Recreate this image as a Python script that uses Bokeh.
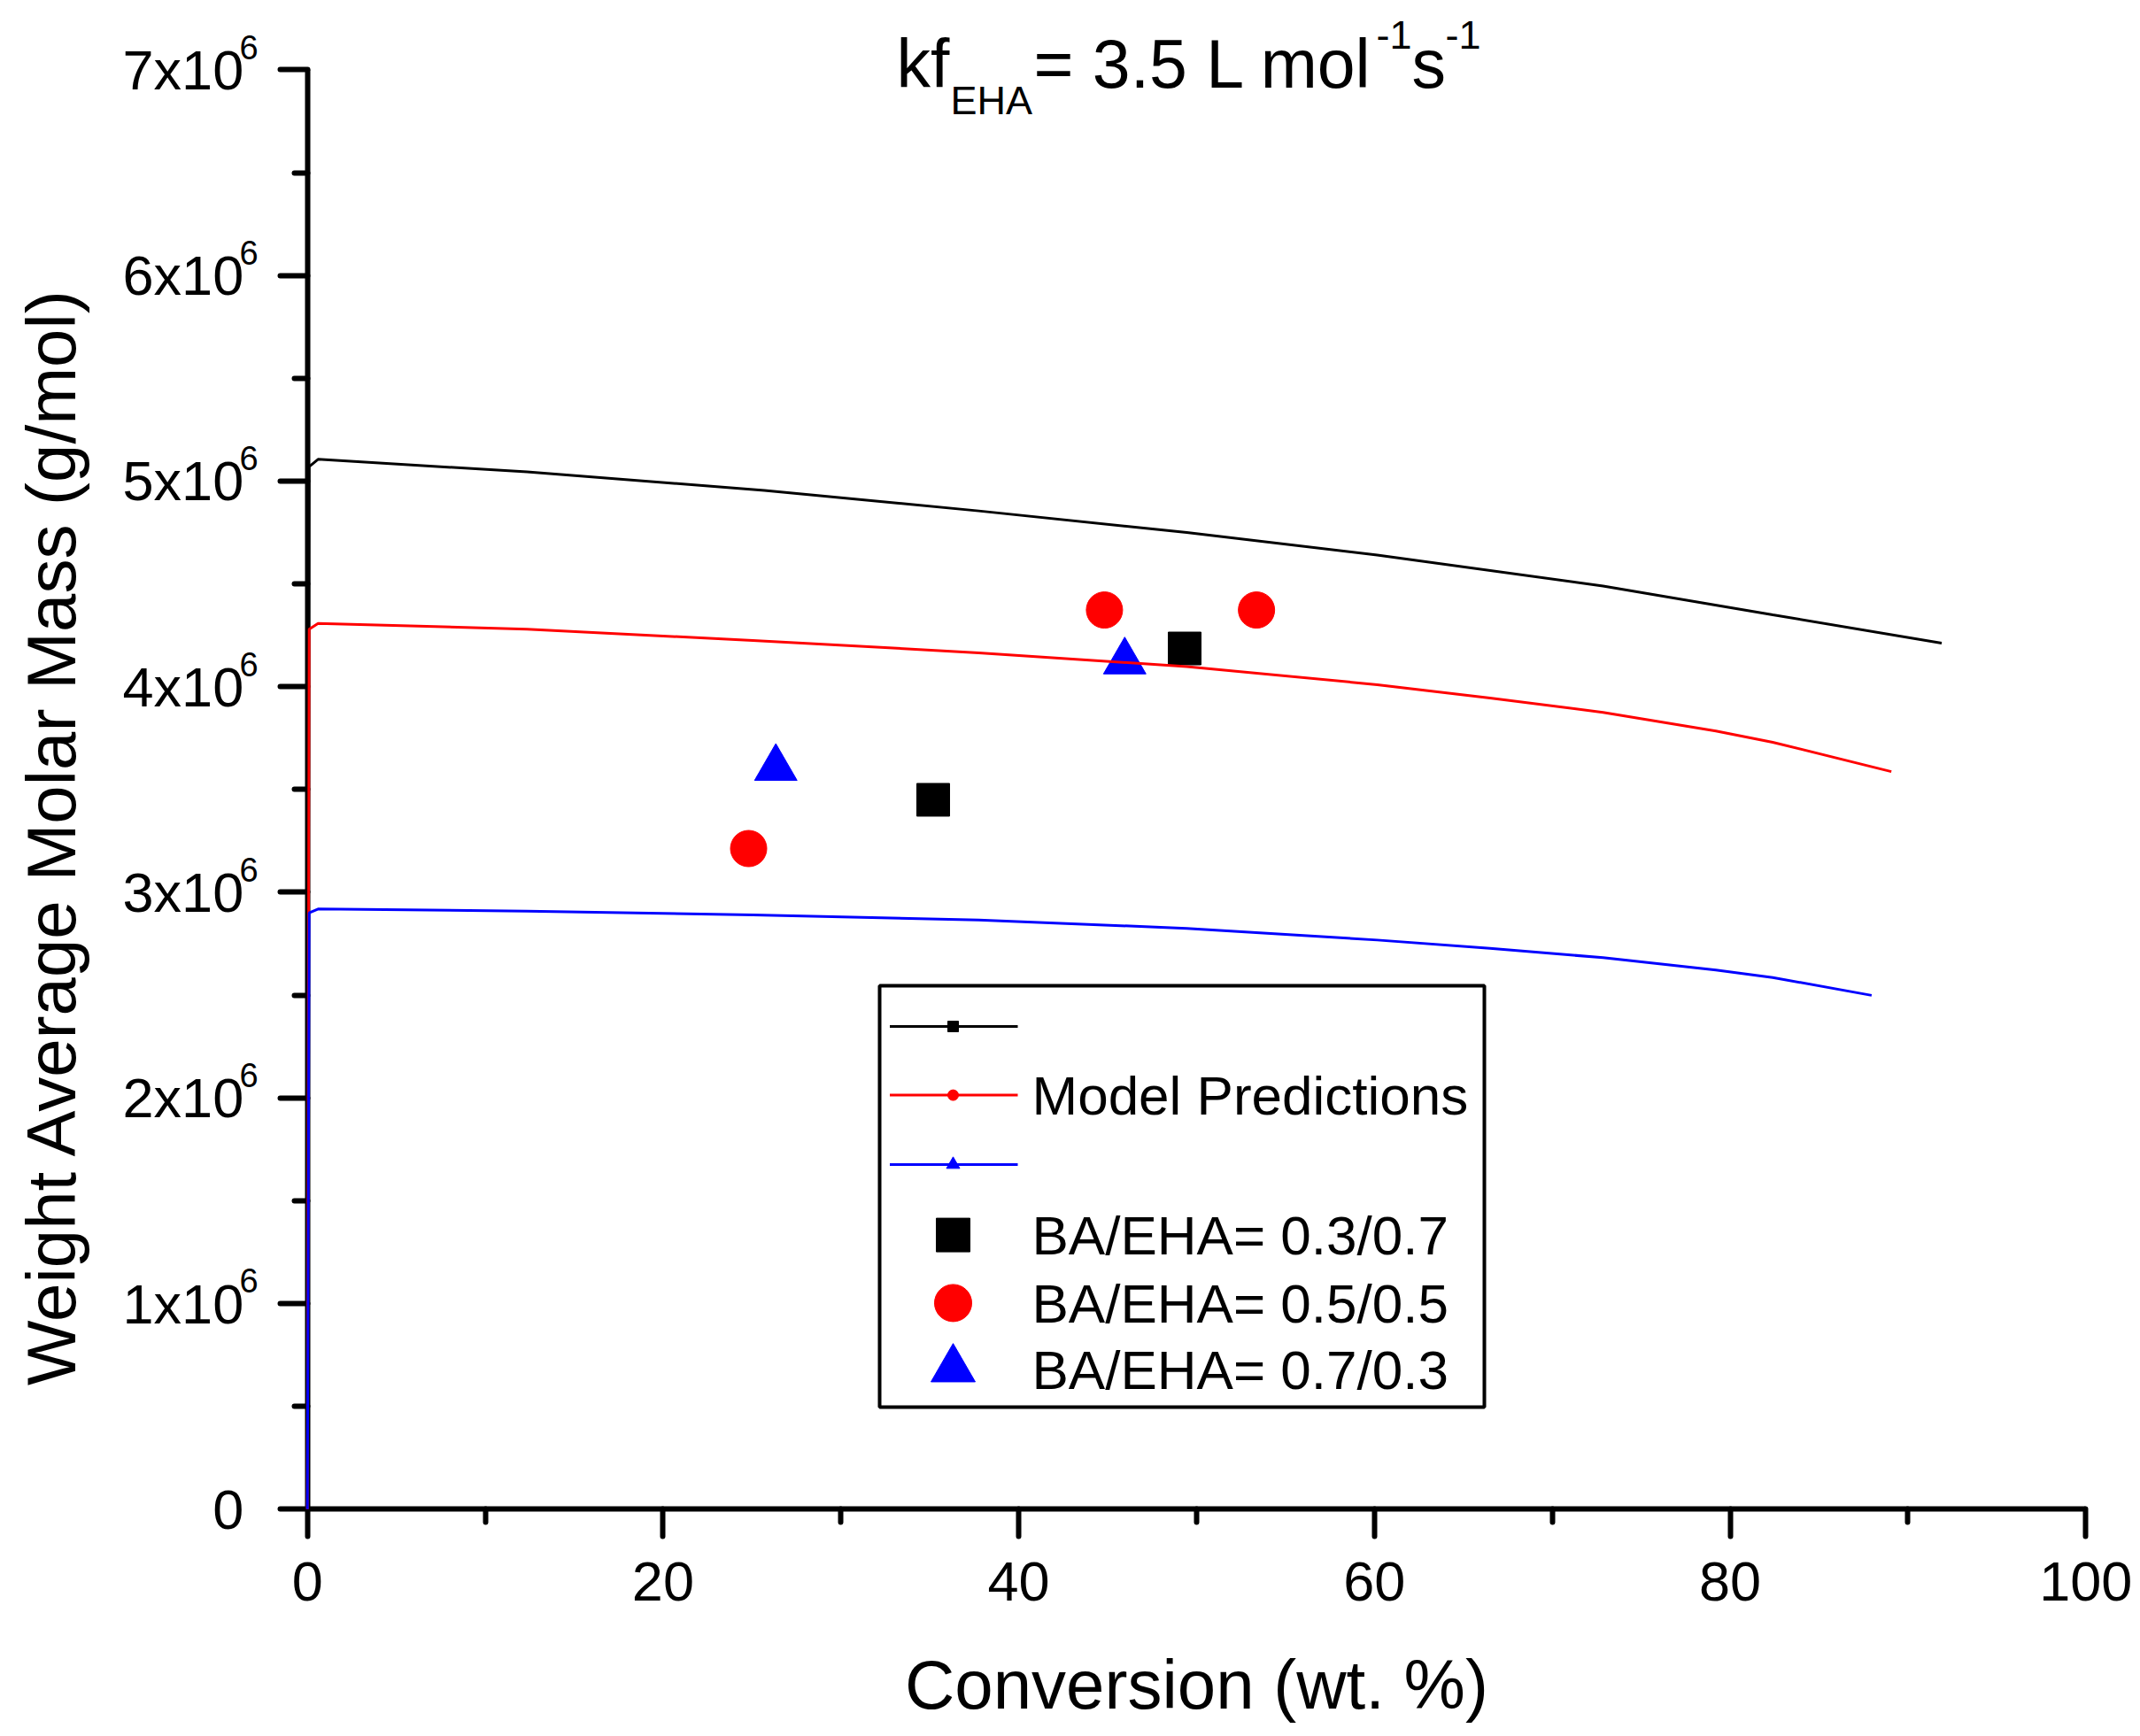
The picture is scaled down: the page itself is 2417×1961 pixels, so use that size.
from math import pi
from bokeh.plotting import figure
from bokeh.models import Range1d, FixedTicker, Label, LabelSet, ColumnDataSource, BoxAnnotation
from bokeh.core.properties import value
from bokeh.embed import file_html
from bokeh.resources import INLINE

FONT = "Liberation Sans"

# ---------------- data ----------------
x_ticks = [0, 20, 40, 60, 80, 100]
x_minor = [10, 30, 50, 70, 90]
y_ticks = [0, 1e6, 2e6, 3e6, 4e6, 5e6, 6e6, 7e6]
y_minor = [0.5e6, 1.5e6, 2.5e6, 3.5e6, 4.5e6, 5.5e6, 6.5e6]
y_tick_labels = ["0", "1x10", "2x10", "3x10", "4x10", "5x10", "6x10", "7x10"]
y_tick_exps = ["", "6", "6", "6", "6", "6", "6", "6"]

# model predictions (conversion wt.%, Mw g/mol)
model_37_x = [0, 0.1, 0.6, 12.35, 25.7, 37.75, 49.45, 60.16, 72.86, 82.4, 91.9]
model_37_y = [0, 5.07e6, 5.106e6, 5.045e6, 4.955e6, 4.855e6, 4.750e6, 4.640e6, 4.490e6, 4.350e6, 4.212e6]
model_55_x = [0, 0.1, 0.6, 12.35, 25.05, 37.75, 49.45, 60.16, 66.5, 72.86, 79.2, 82.4, 89.07]
model_55_y = [0, 4.28e6, 4.308e6, 4.280e6, 4.225e6, 4.165e6, 4.098e6, 4.010e6, 3.945e6, 3.875e6, 3.785e6, 3.730e6, 3.587e6]
model_73_x = [0, 0.1, 0.6, 12.35, 25.05, 37.75, 49.45, 60.16, 66.5, 72.86, 79.2, 82.4, 87.96]
model_73_y = [0, 2.90e6, 2.919e6, 2.909e6, 2.890e6, 2.865e6, 2.825e6, 2.768e6, 2.728e6, 2.682e6, 2.622e6, 2.586e6, 2.499e6]

# experimental data
exp_37_x = [35.19, 49.33]
exp_37_y = [3.450e6, 4.186e6]
exp_55_x = [24.81, 44.82, 53.37]
exp_55_y = [3.213e6, 4.373e6, 4.373e6]
exp_73_x = [26.34, 45.96]
exp_73_y = [3.604e6, 4.122e6]

legend_labels = ["", "Model Predictions", "", "BA/EHA= 0.3/0.7", "BA/EHA= 0.5/0.5", "BA/EHA= 0.7/0.3"]

# ---------------- layout (page pixels) ----------------
W, H = 2415, 1958
X0, XS = 346.7, 20.085        # px of x = 0, px per x unit
Y0, YS = 1704.3, 232.27e-6    # px of y = 0, px per y unit
MID = 0.3465                  # centre of em box above baseline (em)


def dx(px):
    return (px - X0) / XS


def dy(py):
    return (Y0 - py) / YS


p = figure(width=W, height=H, output_backend="svg", toolbar_location=None,
           x_range=Range1d(dx(0), dx(W)), y_range=Range1d(dy(H), dy(0)),
           min_border=0, min_border_left=0, min_border_right=0,
           min_border_top=0, min_border_bottom=0)
p.background_fill_color = "white"
p.border_fill_color = "white"
p.outline_line_color = None
p.xgrid.visible = False
p.ygrid.visible = False

for ax in (p.xaxis, p.yaxis):
    ax.fixed_location = 0
    ax.axis_line_width = 6
    ax.axis_line_color = "black"
    ax.major_tick_line_width = 6
    ax.minor_tick_line_width = 6
    ax.major_tick_line_cap = "round"
    ax.minor_tick_line_cap = "round"
    ax.major_tick_in = 0
    ax.minor_tick_in = 0
    ax.major_tick_out = 31
    ax.minor_tick_out = 15
    ax.major_label_text_font = FONT
    ax.major_label_text_font_size = "63px"
    ax.major_label_text_color = "black"

p.xaxis.bounds = (0, 100)
p.xaxis.ticker = FixedTicker(ticks=x_ticks, minor_ticks=x_minor)
p.xaxis.major_label_standoff = 29
p.yaxis.bounds = (0, 7e6)
p.yaxis.ticker = FixedTicker(ticks=y_ticks, minor_ticks=y_minor)
p.yaxis.major_label_overrides = {int(t): s for t, s in zip(y_ticks, y_tick_labels)}
p.yaxis.major_label_standoff = 41

# superscript exponents of the y tick labels
SUP = 38
sup_src = ColumnDataSource(dict(
    x=[dx(270)] * (len(y_ticks) - 1),
    y=[t + (12.4 + MID * SUP) / YS for t in y_ticks[1:]],
    text=y_tick_exps[1:],
))
p.add_layout(LabelSet(x="x", y="y", text="text", source=sup_src,
                      text_font=value(FONT), text_font_size=f"{SUP}px", text_color="black",
                      text_align="left", text_baseline="middle"))

# model curves (drawn over the axis as in the original)
p.line(model_37_x, model_37_y, line_color="black", line_width=3, level="overlay")
p.line(model_55_x, model_55_y, line_color="red", line_width=3, level="overlay")
p.line(model_73_x, model_73_y, line_color="blue", line_width=3, level="overlay")

# experimental points
p.scatter(exp_37_x, exp_37_y, marker="square", size=37, fill_color="black", line_color="black")
p.scatter(exp_55_x, exp_55_y, marker="circle", size=41, fill_color="red", line_color="red")
p.scatter(exp_73_x, exp_73_y, marker="triangle", size=48, fill_color="blue", line_color="blue")


def add_text(text, px, py_base, size, align="left", angle=0.0):
    """place text so that its baseline sits at py_base (or px for rotated text)"""
    if angle:
        x, y = dx(px - MID * size), dy(py_base)
    else:
        x, y = dx(px), dy(py_base - MID * size)
    p.add_layout(Label(x=x, y=y, text=text, text_font=FONT,
                       text_font_size=f"{size}px", text_color="black",
                       text_align=align, text_baseline="middle", angle=angle))


# title: kf_EHA = 3.5 L mol^-1 s^-1
add_text("kf", 1012, 98.2, 77)
add_text("EHA", 1073, 128.6, 45)
add_text("= 3.5 L mol", 1167, 98.2, 77)
add_text("-1", 1554, 55, 45)
add_text("s", 1594, 98.2, 77)
add_text("-1", 1632, 55, 45)

# axis titles
add_text("Conversion (wt. %)", X0 + 50 * XS, 1930, 78, align="center")
add_text("Weight Average Molar Mass (g/mol)", 85, 944, 78, align="center", angle=pi / 2)

# legend
p.add_layout(BoxAnnotation(left=dx(993), right=dx(1676), top=dy(1113), bottom=dy(1589),
                           fill_color="white", fill_alpha=1.0, line_color="black",
                           line_alpha=1.0, line_width=4, level="underlay"))
rows = [1159, 1236.6, 1315, 1394.6, 1471.4, 1546]
key_x0, key_x1, key_xc, text_x = 1004.5, 1149, 1076, 1165
line_colors = ["black", "red", "blue"]
small_markers = [("square", 12), ("circle", 12), ("triangle", 15)]
for r, c, (m, s) in zip(rows[:3], line_colors, small_markers):
    p.line([dx(key_x0), dx(key_x1)], [dy(r), dy(r)], line_color=c, line_width=3)
    p.scatter([dx(key_xc)], [dy(r)], marker=m, size=s, fill_color=c, line_color=c)
big_markers = [("square", 38), ("circle", 42), ("triangle", 50)]
for r, c, (m, s) in zip(rows[3:], line_colors, big_markers):
    p.scatter([dx(key_xc)], [dy(r)], marker=m, size=s, fill_color=c, line_color=c)
for r, lab in zip(rows, legend_labels):
    if lab:
        add_text(lab, text_x, r + 22.2, 62)

open("out.html", "w").write(file_html(p, INLINE))
